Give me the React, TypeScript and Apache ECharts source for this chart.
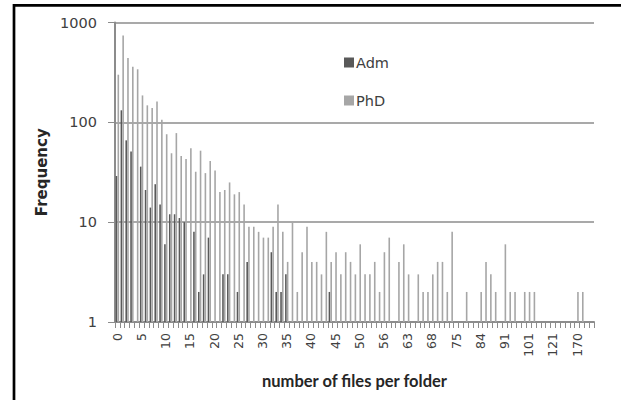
import React, { useEffect, useRef } from "react";
import * as echarts from "echarts";

const categories: string[] = [
  "0","1","2","3","4","5","6","7","8","9",
  "10","11","12","13","14","15","16","17","18","19",
  "20","21","22","23","24","25","26","27","28","29",
  "30","31","32","33","34","35","36","37","38","39",
  "40","41","42","43","44","45","46","47","48","49",
  "50","51","52","53","54","56","57","58","59","61",
  "63","64","65","66","67","68","69","70","72","73",
  "75","77","78","80","82","84","85","86","88","89",
  "91","92","94","96","99","101","104","107","110","115",
  "121","125","132","140","155","170","180","198","235",
];

const admValues: number[] = [
  29, 132, 66, 51, 1, 36, 21, 14, 24, 15,
  6, 12, 12, 11, 10, 1, 8, 2, 3, 7,
  1, 1, 3, 3, 1, 2, 1, 4, 1, 1,
  1, 1, 5, 2, 2, 3, 1, 1, 1, 1,
  1, 1, 1, 1, 2, 1, 1, 1, 1, 1,
  1, 1, 1, 1, 1, 1, 1, 1, 1, 1,
  1, 1, 1, 1, 1, 1, 1, 1, 1, 1,
  1, 1, 1, 1, 1, 1, 1, 1, 1, 1,
  1, 1, 1, 1, 1, 1, 1, 1, 1, 1,
  1, 1, 1, 1, 1, 1, 1, 1, 1,
];

const phdValues: number[] = [
  300, 740, 440, 360, 340, 186, 148, 139, 162, 106,
  76, 49, 78, 46, 43, 55, 32, 52, 31, 41,
  33, 20, 21, 25, 19, 20, 15, 9, 9, 8,
  7, 7, 9, 15, 8, 4, 10, 2, 5, 9,
  4, 4, 3, 8, 4, 5, 3, 5, 4, 3,
  6, 3, 3, 4, 2, 5, 7, 1, 4, 6,
  3, 1, 3, 2, 2, 3, 4, 4, 2, 8,
  1, 1, 2, 1, 1, 2, 4, 3, 2, 1,
  6, 2, 2, 1, 2, 2, 2, 1, 1, 1,
  1, 1, 1, 1, 1, 2, 2, 1, 1,
];

const seriesNames: string[] = ["Adm", "PhD"];

export default function App() {
  const ref = useRef<HTMLDivElement>(null);
  useEffect(() => {
    if (!ref.current) return;
    const chart = echarts.init(ref.current, null, { renderer: "svg" });
    const gridColor = "#8c8c8c";
    chart.setOption({
      animation: false,
      backgroundColor: "#ffffff",
      graphic: [
        {
          type: "rect",
          shape: { x: 14, y: 5.3, width: 700, height: 500 },
          style: { fill: "none", stroke: "#000000", lineWidth: 2.7 },
          silent: true,
        },
      ],
      grid: {
        left: 115,
        right: 27,
        top: 22.5,
        bottom: 78,
        containLabel: false,
        outerBoundsMode: "none",
      },
      legend: {
        orient: "vertical",
        left: 344,
        top: 55,
        padding: 0,
        itemWidth: 10,
        itemHeight: 10,
        itemGap: 23,
        icon: "rect",
        data: seriesNames,
        textStyle: {
          fontFamily: "DejaVu Sans",
          fontSize: 14.5,
          color: "#404040",
          padding: [0, 0, 0, -3],
        },
      },
      xAxis: {
        type: "category",
        data: categories,
        boundaryGap: true,
        name: "number of files per folder",
        nameLocation: "middle",
        nameGap: 50,
        nameTextStyle: {
          fontFamily: "Lato",
          fontWeight: "bold",
          fontSize: 16.5,
          color: "#262626",
        },
        axisLine: { show: true, lineStyle: { color: gridColor, width: 2 } },
        axisTick: { show: true, interval: 0, length: 6, lineStyle: { color: gridColor, width: 1 } },
        axisLabel: {
          interval: 4,
          rotate: 90,
          margin: 11,
          fontFamily: "DejaVu Sans",
          fontSize: 12.5,
          color: "#404040",
        },
        splitLine: { show: false },
      },
      yAxis: {
        type: "log",
        logBase: 10,
        min: 1,
        max: 1000,
        name: "Frequency",
        nameLocation: "middle",
        nameGap: 64,
        nameRotate: 90,
        nameTextStyle: {
          fontFamily: "DejaVu Sans",
          fontWeight: "bold",
          fontSize: 15,
          color: "#262626",
        },
        axisLine: { show: true, lineStyle: { color: gridColor, width: 2 } },
        axisTick: { show: true, length: 7, lineStyle: { color: gridColor, width: 1 } },
        axisLabel: {
          margin: 18,
          fontFamily: "DejaVu Sans",
          fontSize: 14.5,
          color: "#404040",
          formatter: (v: number) => String(Math.round(v)),
        },
        splitLine: { show: true, lineStyle: { color: gridColor, width: 1.6 } },
        minorTick: { show: false },
        minorSplitLine: { show: false },
      },
      series: [
        {
          name: seriesNames[0],
          type: "bar",
          data: admValues,
          barWidth: 1.6,
          barGap: "10%",
          itemStyle: { color: "#595959" },
        },
        {
          name: seriesNames[1],
          type: "bar",
          data: phdValues,
          barWidth: 1.6,
          barGap: "10%",
          itemStyle: { color: "#a6a6a6" },
        },
      ],
    });
    return () => chart.dispose();
  }, []);
  return (
    <div
      ref={ref}
      style={{ position: "fixed", left: 0, top: 0, width: 621, height: 400 }}
    />
  );
}
